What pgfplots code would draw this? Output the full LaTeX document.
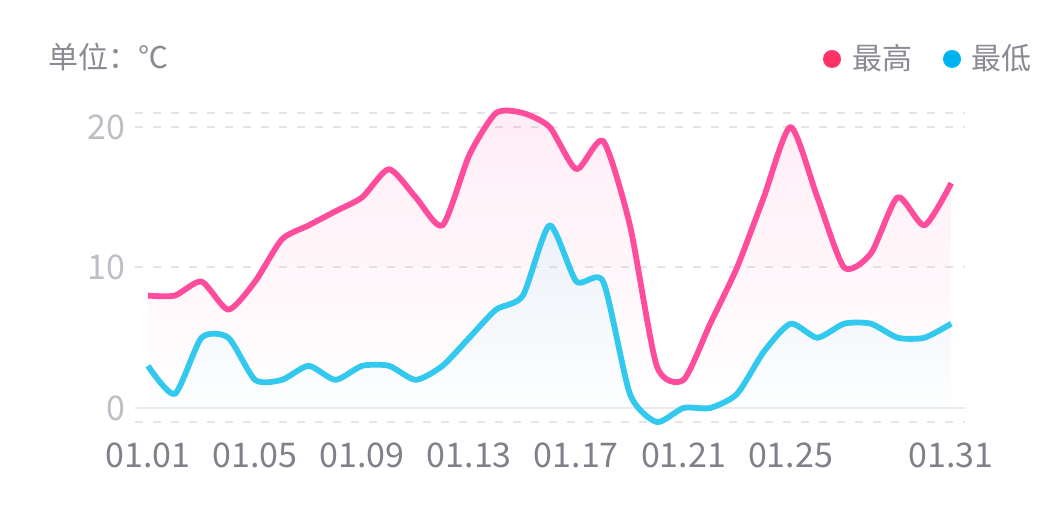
\documentclass[border=0pt]{standalone}
\usepackage{fontspec}
\usepackage{pgfplots}
\pgfplotsset{compat=1.18}
\setmainfont{Noto Sans CJK SC}
\definecolor{hiline}{HTML}{FF4D9D}
\definecolor{loline}{HTML}{33C8EE}
\definecolor{hidot}{HTML}{FF3366}
\definecolor{lodot}{HTML}{00B4F0}
\definecolor{txtgray}{HTML}{8A8A94}
\definecolor{ytickgray}{HTML}{BEBEC6}
\definecolor{xtickgray}{HTML}{80808A}
\definecolor{gridgray}{HTML}{E4E4E8}
\definecolor{zerogray}{HTML}{EAEAED}
\pgfplotstableread{
d hi lo
1 8 3
2 8 1
3 9 5
4 7 5
5 9 2
6 12 2
7 13 3
8 14 2
9 15 3
10 17 3
11 15 2
12 13 3
13 18 5
14 21 7
15 21 8
16 20 13
17 17 9
18 19 9
19 13 1
20 3 -1
21 2 0
22 6 0
23 10 1
24 15 4
25 20 6
26 15 5
27 10 6
28 11 6
29 15 5
30 13 5
31 16 6
}\temps
\begin{document}
\begin{tikzpicture}
\begin{axis}[
  at={(0,0)}, anchor=south west,
  scale only axis,
  width=415pt, height=154.5pt,
  xmin=0.5, xmax=31.5, ymin=-1, ymax=21,
  axis line style={draw=none},
  tick style={draw=none},
  xtick={1,5,9,13,17,21,25,31},
  xticklabels={01.01,01.05,01.09,01.13,01.17,01.21,01.25,01.31},
  ytick={0,10,20},
  extra y ticks={-1,21},
  extra y tick labels={},
  extra y tick style={grid=major},
  ymajorgrids,
  grid style={gridgray, line width=1pt, dash pattern=on 4pt off 5pt},
  /pgf/number format/assume math mode=true,
  xticklabel style={font=\fontsize{17}{20}\selectfont, text=xtickgray, anchor=north, yshift=-7pt},
  yticklabel style={font=\fontsize{17}{20}\selectfont, text=ytickgray, anchor=east, xshift=-1pt},
  clip=false,
]
\addplot[draw=none, smooth, tension=0.4, top color=hiline, bottom color=white, fill opacity=0.10] table[x=d,y=hi]{\temps} \closedcycle;
\addplot[draw=none, smooth, tension=0.4, top color=loline, bottom color=white, fill opacity=0.09] table[x=d,y=lo]{\temps} \closedcycle;
\draw[zerogray, line width=1.2pt] (axis cs:0.5,0) -- (axis cs:31.5,0);
\addplot[hiline, line width=2.9pt, smooth, tension=0.4, line join=round] table[x=d,y=hi]{\temps};
\addplot[loline, line width=2.9pt, smooth, tension=0.4, line join=round] table[x=d,y=lo]{\temps};
\end{axis}
\node[anchor=west, text=txtgray, font=\fontsize{15}{18}\selectfont, inner sep=0pt] at (-43.3pt,182.5pt) {单位：℃};
\fill[hidot] (348.7pt,181.5pt) circle (4.5pt);
\node[anchor=west, text=txtgray, font=\fontsize{15}{18}\selectfont, inner sep=0pt] at (358.5pt,182pt) {最高};
\fill[lodot] (408.7pt,181.5pt) circle (4.5pt);
\node[anchor=west, text=txtgray, font=\fontsize{15}{18}\selectfont, inner sep=0pt] at (418.2pt,182pt) {最低};
\useasboundingbox (-67.3pt,-42.5pt) rectangle (464.2pt,211pt);
\end{tikzpicture}
\end{document}
